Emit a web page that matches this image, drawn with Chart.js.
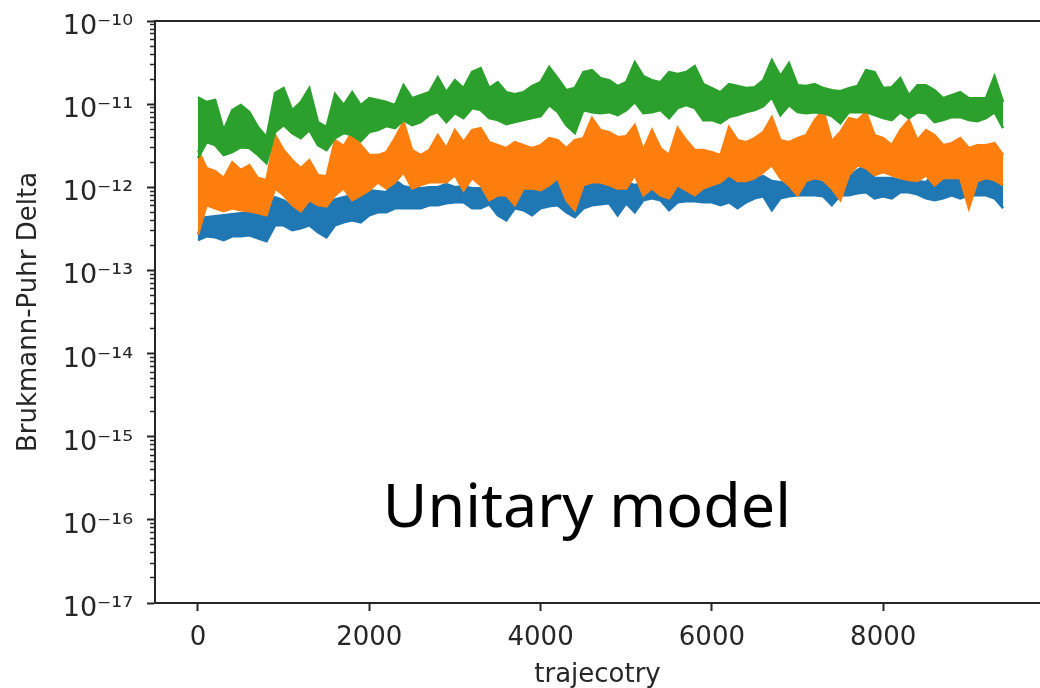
<!DOCTYPE html>
<html>
<head>
<meta charset="utf-8">
<script src="https://cdn.jsdelivr.net/npm/chart.js@4.4.1/dist/chart.umd.min.js"></script>
<style>
html,body{margin:0;padding:0;background:#ffffff;}
canvas{display:block;}
</style>
</head>
<body>
<canvas id="chart" width="1040" height="688"></canvas>
<script>
// ---------------- data ----------------
// The three traces are very dense and noisy; each is stored as the upper and
// lower edge of its band, sampled every SAMPLE_STEP trajectories.
const SAMPLE_STEP = 100;

const X_TICKS = [0, 2000, 4000, 6000, 8000];
const X_TICK_LABELS = ['0', '2000', '4000', '6000', '8000'];

const Y_MAJOR_TICKS = [1e-17, 1e-16, 1e-15, 1e-14, 1e-13, 1e-12, 1e-11, 1e-10];
const Y_TICK_LABELS = ['10⁻¹⁷', '10⁻¹⁶', '10⁻¹⁵', '10⁻¹⁴', '10⁻¹³', '10⁻¹²', '10⁻¹¹', '10⁻¹⁰'];
const Y_MINOR_TICKS = [
  2e-17, 3e-17, 4e-17, 5e-17, 6e-17, 7e-17, 8e-17, 9e-17,
  2e-16, 3e-16, 4e-16, 5e-16, 6e-16, 7e-16, 8e-16, 9e-16,
  2e-15, 3e-15, 4e-15, 5e-15, 6e-15, 7e-15, 8e-15, 9e-15,
  2e-14, 3e-14, 4e-14, 5e-14, 6e-14, 7e-14, 8e-14, 9e-14,
  2e-13, 3e-13, 4e-13, 5e-13, 6e-13, 7e-13, 8e-13, 9e-13,
  2e-12, 3e-12, 4e-12, 5e-12, 6e-12, 7e-12, 8e-12, 9e-12,
  2e-11, 3e-11, 4e-11, 5e-11, 6e-11, 7e-11, 8e-11, 9e-11
];

const X_TITLE = 'trajecotry';
const Y_TITLE = 'Brukmann-Puhr Delta';
const NOTE_TEXT = 'Unitary model';

const blueUpper = [
  4.24e-13, 4.36e-13, 4.48e-13, 4.61e-13, 4.74e-13, 4.87e-13, 5.00e-13, 4.61e-13, 5.29e-13, 7.58e-13,
  6.98e-13, 5.91e-13, 5.59e-13, 7.37e-13, 6.08e-13, 5.75e-13, 7.17e-13, 7.58e-13, 8.01e-13, 1.00e-12,
  9.20e-13, 8.95e-13, 8.71e-13, 1.22e-12, 1.03e-12, 9.73e-13, 9.73e-13, 1.00e-12, 1.00e-12, 1.09e-12,
  1.00e-12, 1.03e-12, 9.73e-13, 9.73e-13, 9.73e-13, 9.20e-13, 8.71e-13, 1.15e-12, 1.06e-12, 9.73e-13,
  1.03e-12, 1.09e-12, 1.22e-12, 1.03e-12, 1.03e-12, 1.15e-12, 1.36e-12, 1.22e-12, 1.19e-12, 1.03e-12,
  1.15e-12, 1.06e-12, 1.15e-12, 1.15e-12, 1.09e-12, 8.95e-13, 1.03e-12, 1.06e-12, 9.73e-13, 9.73e-13,
  1.03e-12, 1.15e-12, 1.52e-12, 1.22e-12, 1.22e-12, 1.29e-12, 1.36e-12, 1.19e-12, 1.15e-12, 1.19e-12,
  1.22e-12, 1.36e-12, 1.61e-12, 1.85e-12, 1.36e-12, 1.19e-12, 1.36e-12, 1.61e-12, 1.85e-12, 1.29e-12,
  1.29e-12, 1.29e-12, 1.22e-12, 1.22e-12, 1.19e-12, 1.15e-12, 1.52e-12, 1.40e-12, 1.40e-12, 1.22e-12,
  1.29e-12, 1.29e-12, 1.29e-12, 1.29e-12, 1.19e-12
];
const blueLower = [
  2.31e-13, 2.57e-13, 2.50e-13, 2.31e-13, 2.57e-13, 2.57e-13, 2.65e-13, 2.44e-13, 2.24e-13, 3.49e-13,
  3.49e-13, 3.04e-13, 3.21e-13, 3.49e-13, 2.88e-13, 2.50e-13, 3.49e-13, 3.79e-13, 4.01e-13, 3.79e-13,
  4.61e-13, 5.00e-13, 5.00e-13, 5.59e-13, 5.59e-13, 5.59e-13, 5.59e-13, 6.08e-13, 6.08e-13, 6.42e-13,
  6.60e-13, 6.60e-13, 5.59e-13, 5.59e-13, 6.25e-13, 4.61e-13, 4.01e-13, 5.59e-13, 5.29e-13, 4.61e-13,
  5.59e-13, 5.91e-13, 6.08e-13, 5.00e-13, 4.36e-13, 5.59e-13, 6.08e-13, 6.25e-13, 6.42e-13, 4.61e-13,
  6.42e-13, 5.00e-13, 6.98e-13, 7.37e-13, 6.98e-13, 5.29e-13, 6.60e-13, 6.79e-13, 6.79e-13, 6.60e-13,
  6.60e-13, 6.08e-13, 6.60e-13, 5.59e-13, 6.60e-13, 7.37e-13, 7.79e-13, 5.29e-13, 7.37e-13, 7.79e-13,
  8.01e-13, 8.01e-13, 8.01e-13, 7.79e-13, 6.08e-13, 8.01e-13, 8.01e-13, 8.47e-13, 8.71e-13, 7.37e-13,
  7.79e-13, 7.37e-13, 8.71e-13, 8.71e-13, 8.24e-13, 7.37e-13, 6.98e-13, 7.37e-13, 8.01e-13, 7.37e-13,
  8.01e-13, 8.01e-13, 8.01e-13, 7.37e-13, 5.59e-13
];

const orangeUpper = [
  2.80e-12, 1.70e-12, 1.56e-12, 1.29e-12, 2.00e-12, 1.61e-12, 1.85e-12, 1.29e-12, 1.22e-12, 4.24e-12,
  2.80e-12, 2.12e-12, 1.70e-12, 2.12e-12, 1.40e-12, 1.36e-12, 3.69e-12, 3.13e-12, 4.61e-12, 3.21e-12,
  2.44e-12, 2.44e-12, 2.65e-12, 3.90e-12, 6.08e-12, 2.80e-12, 2.44e-12, 2.80e-12, 4.24e-12, 2.96e-12,
  4.87e-12, 3.49e-12, 4.87e-12, 5.15e-12, 3.49e-12, 3.21e-12, 2.96e-12, 3.49e-12, 3.21e-12, 2.96e-12,
  3.21e-12, 3.90e-12, 3.69e-12, 2.96e-12, 3.69e-12, 3.90e-12, 6.79e-12, 4.87e-12, 4.61e-12, 4.01e-12,
  4.12e-12, 5.59e-12, 2.80e-12, 4.87e-12, 2.96e-12, 2.44e-12, 5.15e-12, 3.69e-12, 2.80e-12, 2.80e-12,
  2.65e-12, 2.44e-12, 5.29e-12, 3.69e-12, 3.49e-12, 3.90e-12, 4.61e-12, 6.98e-12, 3.69e-12, 3.49e-12,
  3.90e-12, 4.24e-12, 6.42e-12, 8.47e-12, 3.59e-12, 4.61e-12, 6.79e-12, 6.42e-12, 8.01e-12, 4.24e-12,
  3.90e-12, 3.21e-12, 4.87e-12, 6.42e-12, 3.69e-12, 4.87e-12, 4.24e-12, 3.21e-12, 3.40e-12, 3.90e-12,
  2.96e-12, 3.21e-12, 3.21e-12, 3.40e-12, 2.44e-12
];
const orangeLower = [
  2.70e-13, 6.10e-13, 5.60e-13, 5.15e-13, 5.60e-13, 5.30e-13, 5.15e-13, 4.90e-13, 4.60e-13, 9.70e-13,
  8.00e-13, 6.10e-13, 5.15e-13, 7.00e-13, 6.10e-13, 5.90e-13, 8.00e-13, 9.70e-13, 7.00e-13, 8.00e-13,
  9.20e-13, 1.15e-12, 9.70e-13, 1.15e-12, 1.52e-12, 9.70e-13, 1.06e-12, 1.15e-12, 1.15e-12, 1.15e-12,
  1.40e-12, 9.20e-13, 1.29e-12, 1.06e-12, 7.00e-13, 8.00e-13, 8.00e-13, 6.10e-13, 9.70e-13, 9.70e-13,
  9.20e-13, 1.06e-12, 1.29e-12, 7.00e-13, 5.30e-13, 1.06e-12, 1.15e-12, 1.15e-12, 1.06e-12, 9.70e-13,
  9.70e-13, 1.40e-12, 8.00e-13, 9.70e-13, 8.00e-13, 7.40e-13, 1.06e-12, 9.20e-13, 8.00e-13, 9.70e-13,
  1.06e-12, 1.15e-12, 1.40e-12, 1.19e-12, 1.19e-12, 1.29e-12, 1.52e-12, 1.85e-12, 1.29e-12, 1.06e-12,
  8.00e-13, 1.19e-12, 1.29e-12, 1.22e-12, 9.70e-13, 7.00e-13, 1.40e-12, 1.85e-12, 1.70e-12, 1.40e-12,
  1.52e-12, 1.40e-12, 1.29e-12, 1.22e-12, 1.19e-12, 1.40e-12, 1.06e-12, 1.29e-12, 1.29e-12, 1.29e-12,
  5.60e-13, 1.19e-12, 1.29e-12, 1.22e-12, 1.06e-12
];

const greenUpper = [
  1.21e-11, 1.06e-11, 1.12e-11, 4.87e-12, 8.47e-12, 9.73e-12, 8.01e-12, 5.29e-12, 4.01e-12, 1.36e-11,
  1.56e-11, 8.47e-12, 1.06e-11, 1.56e-11, 6.08e-12, 5.29e-12, 1.32e-11, 9.73e-12, 1.39e-11, 9.73e-12,
  1.18e-11, 1.12e-11, 1.06e-11, 9.73e-12, 1.69e-11, 1.18e-11, 1.28e-11, 1.39e-11, 2.11e-11, 1.39e-11,
  1.94e-11, 1.56e-11, 2.43e-11, 2.71e-11, 1.56e-11, 1.84e-11, 1.39e-11, 1.32e-11, 1.39e-11, 1.65e-11,
  1.84e-11, 2.79e-11, 2.05e-11, 1.47e-11, 1.56e-11, 2.43e-11, 2.56e-11, 2.05e-11, 1.94e-11, 1.65e-11,
  1.84e-11, 3.20e-11, 2.17e-11, 1.94e-11, 1.84e-11, 2.43e-11, 2.30e-11, 2.43e-11, 2.87e-11, 1.74e-11,
  1.56e-11, 1.39e-11, 1.74e-11, 1.65e-11, 1.56e-11, 1.60e-11, 1.94e-11, 3.38e-11, 2.17e-11, 3.11e-11,
  1.69e-11, 1.65e-11, 1.74e-11, 1.56e-11, 1.47e-11, 1.43e-11, 1.56e-11, 1.65e-11, 2.56e-11, 2.43e-11,
  1.56e-11, 1.60e-11, 2.05e-11, 1.28e-11, 1.69e-11, 1.69e-11, 1.47e-11, 1.18e-11, 1.28e-11, 1.39e-11,
  1.18e-11, 1.18e-11, 1.18e-11, 2.17e-11, 1.06e-11
];
const greenLower = [
  2.24e-12, 3.49e-12, 3.21e-12, 2.44e-12, 2.65e-12, 3.04e-12, 2.96e-12, 2.44e-12, 1.95e-12, 4.61e-12,
  5.59e-12, 4.48e-12, 3.90e-12, 4.87e-12, 3.21e-12, 2.80e-12, 3.90e-12, 4.48e-12, 4.24e-12, 3.59e-12,
  4.61e-12, 4.87e-12, 5.44e-12, 5.15e-12, 6.42e-12, 5.59e-12, 6.08e-12, 7.37e-12, 8.01e-12, 6.08e-12,
  7.79e-12, 6.79e-12, 8.95e-12, 8.47e-12, 6.79e-12, 6.42e-12, 5.75e-12, 6.08e-12, 6.42e-12, 6.79e-12,
  7.17e-12, 9.73e-12, 8.01e-12, 5.59e-12, 4.48e-12, 8.47e-12, 8.01e-12, 7.79e-12, 8.01e-12, 7.37e-12,
  8.47e-12, 1.06e-11, 7.79e-12, 8.01e-12, 8.47e-12, 6.79e-12, 8.95e-12, 9.73e-12, 8.95e-12, 6.42e-12,
  6.42e-12, 5.91e-12, 6.98e-12, 7.37e-12, 8.01e-12, 8.47e-12, 9.46e-12, 1.21e-11, 7.37e-12, 9.73e-12,
  8.01e-12, 7.79e-12, 8.01e-12, 7.79e-12, 7.17e-12, 5.91e-12, 8.01e-12, 8.01e-12, 8.01e-12, 7.37e-12,
  6.79e-12, 6.42e-12, 8.01e-12, 6.79e-12, 8.01e-12, 7.79e-12, 6.08e-12, 6.42e-12, 6.98e-12, 6.98e-12,
  6.42e-12, 6.25e-12, 6.79e-12, 8.01e-12, 5.15e-12
];

// ---------------- chart ----------------
const FONT_FAMILY = '"DejaVu Sans", sans-serif';
const INK = '#262626';
const BLUE = '#1f77b4', ORANGE = '#ff7f0e', GREEN = '#2ca02c';

function toPoints(values) {
  return values.map((v, i) => ({ x: i * SAMPLE_STEP, y: v }));
}

function band(label, values, colour, order, fillPrev) {
  return {
    label: label,
    data: toPoints(values),
    borderColor: colour,
    backgroundColor: colour,
    borderWidth: 2.5,
    order: order,
    fill: fillPrev ? '-1' : false
  };
}

const framePlugin = {
  id: 'frameAndNote',
  afterDraw(chart) {
    const { ctx, chartArea } = chart;
    ctx.save();
    ctx.strokeStyle = INK;
    ctx.lineWidth = 2;
    ctx.beginPath();
    ctx.moveTo(chartArea.left, chartArea.top);
    ctx.lineTo(chartArea.right, chartArea.top);
    ctx.stroke();
    ctx.fillStyle = '#000000';
    ctx.font = '61px "Noto Sans", sans-serif';
    ctx.textAlign = 'center';
    ctx.textBaseline = 'alphabetic';
    const w = chartArea.right - chartArea.left;
    const h = chartArea.bottom - chartArea.top;
    ctx.fillText(NOTE_TEXT, chartArea.left + 0.488 * w, chartArea.top + 0.869 * h);
    ctx.restore();
  }
};

new Chart(document.getElementById('chart').getContext('2d'), {
  type: 'line',
  data: {
    datasets: [
      band('series 1 (low)', blueLower, BLUE, 3, false),
      band('series 1', blueUpper, BLUE, 3, true),
      band('series 2 (low)', orangeLower, ORANGE, 2, false),
      band('series 2', orangeUpper, ORANGE, 2, true),
      band('series 3 (low)', greenLower, GREEN, 1, false),
      band('series 3', greenUpper, GREEN, 1, true)
    ]
  },
  options: {
    responsive: false,
    animation: false,
    devicePixelRatio: 1,
    layout: { padding: { top: 21, right: 0, bottom: 0, left: 0 } },
    elements: {
      point: { radius: 0, hoverRadius: 0 },
      line: { tension: 0 }
    },
    plugins: { legend: { display: false }, tooltip: { enabled: false }, filler: { propagate: false } },
    scales: {
      x: {
        type: 'linear',
        min: -502,
        max: 9831,
        afterBuildTicks: (s) => { s.ticks = X_TICKS.map(v => ({ value: v })); },
        afterFit: (s) => { s.height = 85; s.paddingLeft = 0; s.paddingRight = 0; },
        grid: { drawOnChartArea: false, drawTicks: true, tickLength: 8, tickWidth: 2, tickColor: INK },
        border: { display: true, color: INK, width: 2 },
        ticks: {
          color: INK,
          font: { family: FONT_FAMILY, size: 26 },
          padding: 12,
          maxRotation: 0,
          autoSkip: false,
          callback: (v, i) => X_TICK_LABELS[i]
        },
        title: {
          display: true, text: X_TITLE, color: INK,
          font: { family: FONT_FAMILY, size: 26, lineHeight: 1 },
          padding: { top: 0, bottom: 0 }
        }
      },
      y: {
        type: 'logarithmic',
        position: 'left',
        weight: 1,
        min: 1e-17,
        max: 1e-10,
        afterBuildTicks: (s) => { s.ticks = Y_MAJOR_TICKS.map(v => ({ value: v })); },
        afterFit: (s) => { s.width = 155; s.paddingTop = 0; s.paddingBottom = 0; },
        grid: { drawOnChartArea: false, drawTicks: true, tickLength: 8, tickWidth: 2, tickColor: INK },
        border: { display: true, color: INK, width: 2 },
        ticks: {
          color: INK,
          font: { family: FONT_FAMILY, size: 27 },
          padding: 14,
          labelOffset: 6,
          autoSkip: false,
          callback: (v, i) => Y_TICK_LABELS[i]
        },
        title: {
          display: true, text: Y_TITLE, color: INK,
          font: { family: FONT_FAMILY, size: 26, lineHeight: 1 },
          padding: { top: 16, bottom: 0 }
        }
      },
      yMinor: {
        type: 'logarithmic',
        position: 'left',
        weight: 0,
        min: 1e-17,
        max: 1e-10,
        afterBuildTicks: (s) => { s.ticks = Y_MINOR_TICKS.map(v => ({ value: v })); },
        afterFit: (s) => { s.width = 0; s.paddingTop = 0; s.paddingBottom = 0; },
        grid: { drawOnChartArea: false, drawTicks: true, tickLength: 5, tickWidth: 1.5, tickColor: INK },
        border: { display: false },
        ticks: { autoSkip: false, padding: 0, font: { size: 1 }, callback: () => '' }
      }
    }
  },
  plugins: [framePlugin]
});
</script>
</body>
</html>
